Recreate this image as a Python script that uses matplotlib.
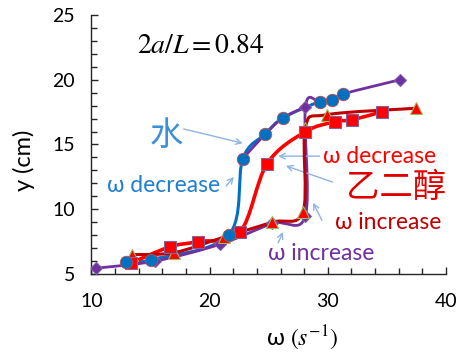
import numpy as np
import matplotlib
matplotlib.use("Agg")
import matplotlib.pyplot as plt
from matplotlib.path import Path
from matplotlib.patches import PathPatch
from matplotlib.ticker import MultipleLocator

plt.rcParams['mathtext.fontset'] = 'stix'
plt.rcParams['font.family'] = ['Lato', 'DejaVu Sans']

# water, omega decreasing (blue circles)
water_dec_w = [31.3, 30.35, 29.3, 26.2, 24.7, 22.8, 21.6, 15.0, 12.9]
water_dec_y = [18.9, 18.4, 18.3, 17.05, 15.8, 13.9, 8.0, 6.1, 5.9]

# water, omega increasing (purple diamonds)
water_inc_w = [10.4, 15.4, 20.9, 25.3, 28.1, 28.1, 29.3, 30.35, 31.3, 36.1]
water_inc_y = [5.45, 6.0, 7.3, 8.9, 9.5, 17.9, 18.3, 18.4, 18.9, 20.0]
water_inc_upper_w = [22.8, 24.7, 26.2, 28.1]
water_inc_upper_y = [13.9, 15.8, 17.05, 17.9]

# ethylene glycol, omega decreasing (red squares)
glycol_dec_w = [34.57, 32.03, 30.6, 28.06, 24.85, 22.56, 19.0, 16.64, 13.34]
glycol_dec_y = [17.53, 16.9, 16.76, 15.97, 13.5, 8.24, 7.5, 7.1, 5.85]

# ethylene glycol, omega increasing (red triangles)
glycol_inc_w = [13.4, 17.0, 21.2, 25.3, 27.9, 28.1, 29.9, 37.5]
glycol_inc_y = [6.5, 6.65, 7.85, 9.0, 9.8, 16.3, 17.3, 17.8]


# Excel-like smoothed line (Catmull-Rom as cubic Bezier)
def smooth_line(ax, xs, ys, color, lw, z):
    p = np.column_stack([xs, ys]).astype(float)
    n = len(p)
    verts = [p[0]]
    codes = [Path.MOVETO]
    for i in range(n - 1):
        p0 = p[i - 1] if i > 0 else p[i]
        p3 = p[i + 2] if i + 2 < n else p[i + 1]
        verts += [p[i] + (p[i + 1] - p0) / 6, p[i + 1] - (p3 - p[i]) / 6, p[i + 1]]
        codes += [Path.CURVE4] * 3
    ax.add_patch(PathPatch(Path(verts, codes), fill=False, edgecolor=color,
                           lw=lw, zorder=z, capstyle='round', joinstyle='round'))


fig = plt.figure(figsize=(4.57, 3.52), dpi=100)
ax = fig.add_axes([0.2002, 0.2216, 0.7757, 0.7358])

blue = '#0070C0'
purple = '#7030A0'
red = '#FF0000'
dred = '#C00000'

smooth_line(ax, water_dec_w, water_dec_y, blue, 2.2, 2)
smooth_line(ax, water_inc_w, water_inc_y, purple, 2.0, 3)
smooth_line(ax, water_inc_upper_w, water_inc_upper_y, purple, 2.0, 3)
smooth_line(ax, glycol_dec_w, glycol_dec_y, red, 2.6, 4)
smooth_line(ax, glycol_inc_w, glycol_inc_y, dred, 2.2, 5)

ax.plot(water_inc_w, water_inc_y, ls='none', marker='D', ms=6.5, mfc=purple,
        mec='#7F5FA8', mew=0.8, zorder=6)
ax.plot(glycol_inc_w, glycol_inc_y, ls='none', marker='^', ms=9, mfc=red,
        mec='#9BBB59', mew=0.8, zorder=7)
ax.plot(glycol_dec_w, glycol_dec_y, ls='none', marker='s', ms=8.5, mfc=red,
        mec='#8064A2', mew=0.8, zorder=8)
ax.plot(water_dec_w, water_dec_y, ls='none', marker='o', ms=9, mfc=blue,
        mec='#C0504D', mew=0.6, zorder=9)

ax.set_xlim(10, 40)
ax.set_ylim(5, 25)
ax.xaxis.set_major_locator(MultipleLocator(10))
ax.xaxis.set_minor_locator(MultipleLocator(2))
ax.yaxis.set_major_locator(MultipleLocator(5))
ax.yaxis.set_minor_locator(MultipleLocator(1))
for s in ['top', 'right']:
    ax.spines[s].set_visible(False)
for s in ['left', 'bottom']:
    ax.spines[s].set_linewidth(1.0)
    ax.spines[s].set_color('#262626')
ax.tick_params(which='both', direction='in', color='#262626', width=1.0)
ax.tick_params(which='major', length=5)
ax.tick_params(which='minor', length=4)
ax.tick_params(axis='x', which='major', pad=14, labelsize=14)
ax.tick_params(axis='y', which='major', pad=12, labelsize=14)

ax.set_ylabel('y (cm)', fontsize=17)
ax.yaxis.set_label_coords(-0.16, 0.44)
ax.set_xlabel(r'ω $(s^{-1})$', fontsize=17)
ax.xaxis.set_label_coords(0.594, -0.19)

ax.text(13.85, 22.68, r'$2a/L = 0.84$', fontsize=20,
        ha='left', va='center')

arrow = dict(arrowstyle='->', color='#8DB4E2', lw=1.0, shrinkA=0, shrinkB=0)
cjk = ['Noto Sans CJK SC', 'DejaVu Sans']

ax.text(16.3, 15.7, '水', color='#3D8FD8', fontsize=24, family=cjk,
        ha='center', va='center')
ax.annotate('', xy=(22.8, 15.1), xytext=(17.8, 16.2), arrowprops=arrow)

ax.text(16.1, 11.8, 'ω decrease', color='#1F7FD0', fontsize=16.5,
        ha='center', va='center')
ax.annotate('', xy=(22.05, 12.5), xytext=(21.4, 11.8), arrowprops=arrow)

ax.text(34.4, 14.1, 'ω decrease', color=red, fontsize=16.5,
        ha='center', va='center')
ax.annotate('', xy=(25.8, 14.1), xytext=(29.3, 14.1), arrowprops=arrow)

ax.text(35.8, 11.7, '乙二醇', color='#E00000', fontsize=24, family=cjk,
        ha='center', va='center')
ax.annotate('', xy=(26.45, 13.35), xytext=(30.4, 12.1), arrowprops=arrow)

ax.text(35.1, 9.0, 'ω increase', color=dred, fontsize=16.5,
        ha='center', va='center')
ax.annotate('', xy=(28.75, 10.5), xytext=(29.5, 9.15), arrowprops=arrow)

ax.text(29.4, 6.6, 'ω increase', color=purple, fontsize=16.5,
        ha='center', va='center')
ax.annotate('', xy=(26.2, 8.25), xytext=(25.8, 7.4), arrowprops=arrow)

fig.savefig('out.png', dpi=100)
